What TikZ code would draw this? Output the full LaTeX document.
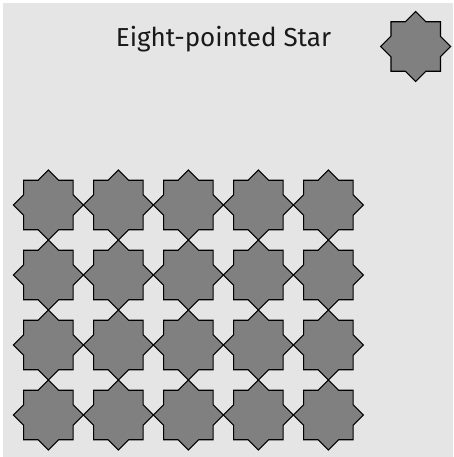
\documentclass[tikz,border=0pt]{standalone}
\usepackage{fontspec}
\setsansfont{Fira Sans}
\usepackage{tikz}
\definecolor{panelgray}{RGB}{229,229,229}
\definecolor{stargray}{RGB}{128,128,128}

\tikzset{
  eightstar/.pic={
    % two squares of circumradius 35, inner corners at 26.79
    \draw[starline] plot[samples at={0,...,15}]
      ({\x*22.5}:{35-8.21*mod(\x,2)}) -- cycle;
  }
}

\begin{document}
\begin{tikzpicture}[
    x=1pt, y=-1pt,
    starline/.style={draw=black, fill=stargray, line width=1.1pt, line join=miter},
    title/.style={font=\sffamily\fontsize{26}{30}\selectfont, text=black!90, anchor=base},
  ]
    \useasboundingbox (0,0) rectangle (453,457);
    % panel
    \fill[panelgray] (3,3) rectangle (453,457);
    % heading and sample star
    \node[title] (head) at (223.5,47) {Eight-pointed Star};
    \pic at (415.7,46.5) {eightstar};
    % 5 x 4 tiling, tips touching
    \foreach \i in {0,...,4} {
      \foreach \j in {0,...,3} {
        \pic at ({48.3+70*\i},{205+70*\j}) {eightstar};
      }
    }
\end{tikzpicture}
\end{document}
